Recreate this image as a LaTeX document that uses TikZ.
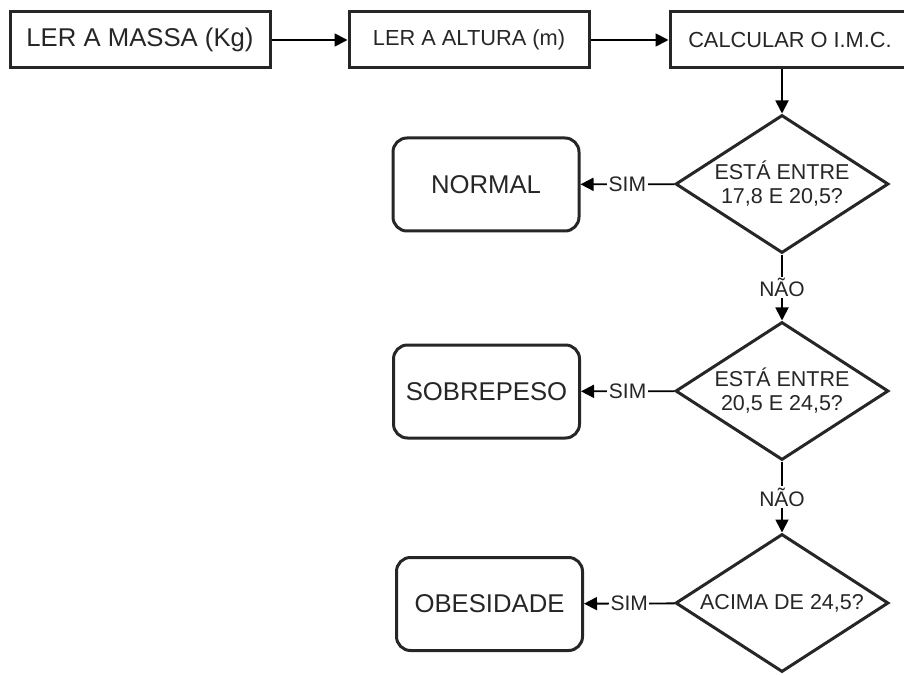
\documentclass[tikz,border=0pt]{standalone}
\usepackage{fontspec}
\setmainfont{Liberation Sans}
\usepackage{tikz}
\usetikzlibrary{
    arrows.meta,
    shapes.geometric,
    positioning
}
\tikzset{
    caixa/.style={draw=black!85, line width=3pt, minimum height=56pt, inner sep=0pt, text=black!85},
    decisao/.style={diamond, aspect=1.55, draw=black!85, line width=3pt, minimum width=213pt, minimum height=138pt, inner sep=0pt, align=center, text=black!85, font=\fontsize{21.5}{24}\selectfont},
    terminal/.style={draw=black!85, line width=3pt, rounded corners=14pt, minimum width=186pt, minimum height=93pt, text=black!85, font=\fontsize{25.7}{28}\selectfont},
    seta/.style={line width=1.8pt, -{Triangle[length=13pt,width=13pt]}},
    rotulo/.style={fill=white, inner sep=1.5pt, text=black!85, font=\fontsize{21}{23}\selectfont}
}

\begin{document}
\begin{tikzpicture}[x=1pt, y=-1pt]
                                \useasboundingbox (0, 0) rectangle (904, 676);
                                \node[caixa, minimum width=260pt, font=\fontsize{25.7}{28}\selectfont] (massa) at (140, 40) {LER A MASSA (Kg)};
                                \node[caixa, minimum width=240pt, font=\fontsize{21.8}{24}\selectfont] (altura) at (469, 40) {LER A ALTURA (m)};
                                \node[caixa, minimum width=240pt, font=\fontsize{21.8}{24}\selectfont] (imc) at (790, 40) {CALCULAR O I.M.C.};
                                \node[decisao] (teste1) at (782, 184) {ESTÁ ENTRE\\17,8 E 20,5?};
                                \node[decisao] (teste2) at (782, 391) {ESTÁ ENTRE\\20,5 E 24,5?};
                                \node[decisao] (teste3) at (782, 603) {ACIMA DE 24,5?};
                                \node[terminal] (normal) at (486, 184.5) {NORMAL};
                                \node[terminal] (sobrepeso) at (486.5, 391.5) {SOBREPESO};
                                \node[terminal] (obesidade) at (489.5, 604) {OBESIDADE};
                                \draw[seta] (massa) -- (altura);
                                \draw[seta] (altura) -- (imc);
                                \draw[seta] (imc.south -| teste1.north) -- (teste1.north);
                                \draw[seta] (teste1) -- node[rotulo] {SIM} (normal);
                                \draw[seta] (teste2) -- node[rotulo] {SIM} (sobrepeso);
                                \draw[seta] (teste3) -- node[rotulo] {SIM} (obesidade);
                                \draw[seta] (teste1) -- node[rotulo] {NÃO} (teste2);
                                \draw[seta] (teste2) -- node[rotulo] {NÃO} (teste3);
                            \end{tikzpicture}
\end{document}
